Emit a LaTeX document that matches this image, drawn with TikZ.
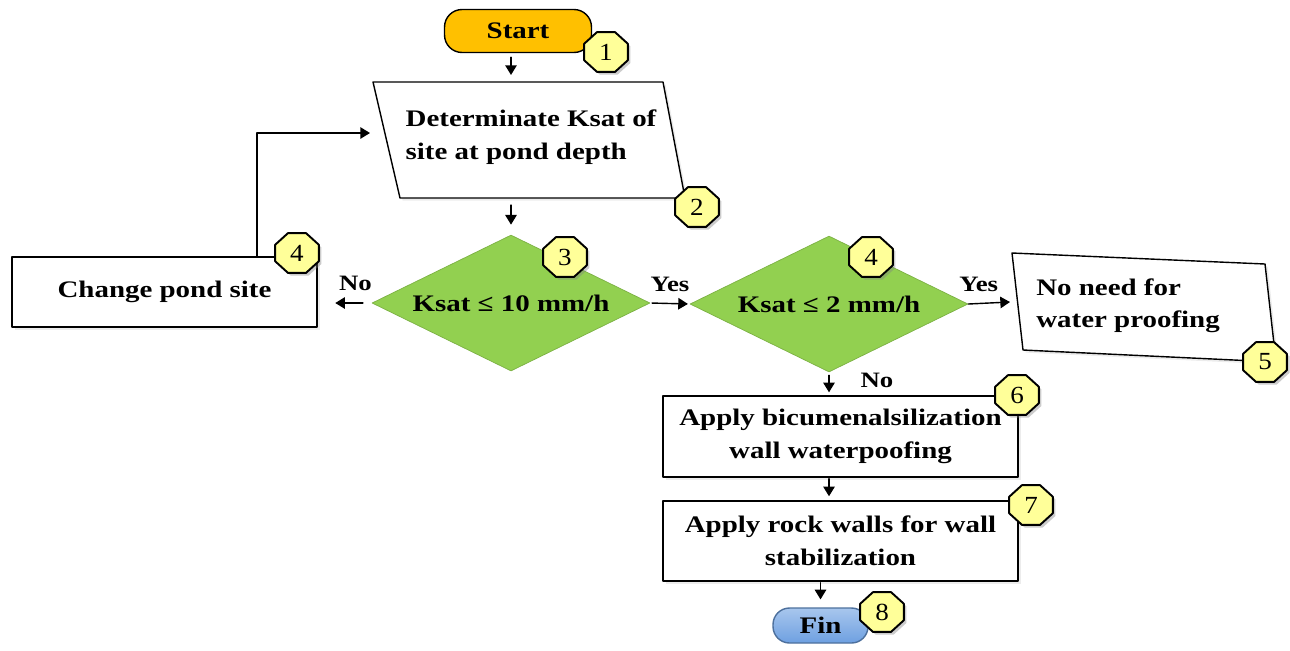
\documentclass[tikz,border=0pt]{standalone}
\usepackage{fontspec}
\setmainfont{Liberation Serif}[FakeStretch=1.22]
\newfontfamily\digitfont{Liberation Serif}
\usetikzlibrary{shapes.geometric,shadows,arrows.meta}
\definecolor{startorange}{RGB}{255,192,0}
\definecolor{testgreen}{RGB}{146,208,80}
\definecolor{badgeyellow}{RGB}{255,255,153}
\definecolor{finblue}{RGB}{110,160,225}

\begin{document}
\begin{tikzpicture}[x=0.02cm,y=-0.02cm,line cap=round,line join=round,>={Triangle[length=5.5pt,width=6.5pt]},
	every node/.style={font=\bfseries\fontsize{13.5}{18.5}\selectfont},
	proc/.style={draw,line width=0.8pt,fill=white,align=center,drop shadow={opacity=0.15,shadow xshift=1.5pt,shadow yshift=-1.5pt}},
	slab/.style={line width=0.8pt,fill=white,drop shadow={opacity=0.15,shadow xshift=1.5pt,shadow yshift=-1.5pt}},
	test/.style={diamond,fill=testgreen,draw=testgreen!85!black,line width=0.4pt,inner sep=0pt,aspect=2,minimum width=5.56cm,minimum height=2.72cm},
	term/.style={draw,line width=0.8pt,rounded corners=0.35cm},
	badge/.style={regular polygon,regular polygon sides=8,draw,line width=1.1pt,fill=badgeyellow,inner sep=0pt,minimum size=0.86cm,xscale=1.1,font=\digitfont\fontsize{14}{14}\selectfont,drop shadow={opacity=0.4,shadow xshift=1.5pt,shadow yshift=-1.5pt}},
	tag/.style={font=\bfseries\fontsize{12.5}{14}\selectfont},
	flow/.style={->,line width=0.8pt}]
	\useasboundingbox (0,0) rectangle (1290,650);
	\node[term,fill=startorange,minimum width=2.94cm,minimum height=0.86cm] (start) at (518,31) {Start};
	\coordinate (dtl) at (373,82);
	\coordinate (dbr) at (685,198);
	\draw[slab] (dtl) -- (663,82) -- (dbr) -- (400,198) -- cycle;
	\node[align=left] (det) at (531,137) {Determinate Ksat of\\site at pond depth};
	\node[test] (d3) at (511,303) {Ksat ≤ 10 mm/h};
	\node[test] (d4) at (829,304) {Ksat ≤ 2 mm/h};
	\node[proc,minimum width=6.1cm,minimum height=1.4cm] (pond) at (164.5,292) {Change pond site};
	\draw[slab] (1012,253) -- (1265,264) -- (1276,362) -- (1023,350) -- cycle;
	\node[align=left] (nofix) at (1128,306) {No need for\\water proofing};
	\node[proc,minimum width=7.1cm,minimum height=1.62cm] (wpf) at (840.5,436.5) {Apply bicumenalsilization\\wall waterpoofing};
	\node[proc,minimum width=7.1cm,minimum height=1.6cm] (rock) at (840.5,541) {Apply rock walls for wall\\stabilization};
	\node[term,top color=finblue!60!white,bottom color=finblue,draw=finblue!70!black,rounded corners=0.33cm,minimum width=1.9cm,minimum height=0.7cm] (fin) at (820.5,625.5) {Fin};
	\coordinate (back) at (370,133);
	\coordinate (in5) at (1010,302);
	\draw[flow,shorten <=2.3pt,shorten >=4pt] (start.south -| d3.north) -- (d3.north |- dtl);
	\draw[flow,shorten <=4pt,shorten >=5.7pt] (d3.north |- dbr) -- (d3.north);
	\draw[flow,shorten <=5pt,shorten >=10pt] (d3.west) -- node[tag,above=3pt,pos=0.3]{No} (d3.west -| pond.east);
	\draw[flow] ([xshift=1.85cm]pond.north) |- (back);
	\draw[flow,shorten <=1pt,shorten >=1pt] (d3.east) -- node[tag,above=3pt]{Yes} (d4.west);
	\draw[flow] (d4.east) -- node[tag,above=3pt,pos=0.25]{Yes} (in5);
	\draw[flow,shorten <=1.7pt,shorten >=1.7pt] (d4.south) -- node[tag,right=0.5cm,pos=0.35]{No} (d4.south |- wpf.north);
	\draw[flow,shorten <=0.6pt,shorten >=2.3pt] (d4.south |- wpf.south) -- (d4.south |- rock.north);
	\draw[flow,shorten <=0.6pt,shorten >=4.5pt] (fin.north |- rock.south) -- (fin.north);
	\node[badge] (b1) at (606,52) {1};
	\node[badge] (b2) at (697,207) {2};
	\node[badge] (b3) at (565,257) {3};
	\node[badge] (b4a) at (297,253) {4};
	\node[badge] (b4b) at (871,257) {4};
	\node[badge] (b5) at (1265,362) {5};
	\node[badge] (b6) at (1017,395) {6};
	\node[badge] (b7) at (1031,505) {7};
	\node[badge] (b8) at (882,612) {8};
\end{tikzpicture}
\end{document}
